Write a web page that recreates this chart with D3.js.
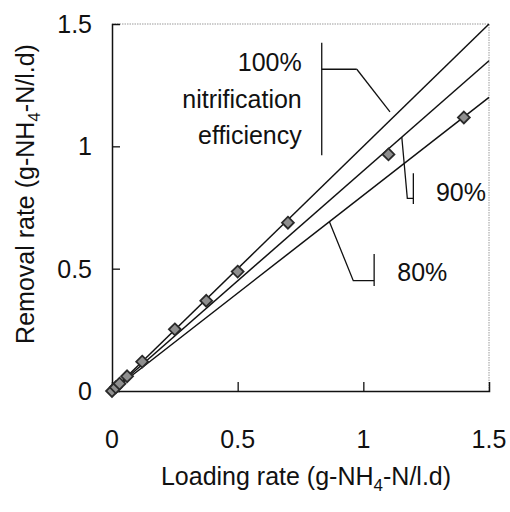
<!DOCTYPE html>
<html>
<head>
<meta charset="utf-8">
<script src="https://cdn.jsdelivr.net/npm/d3@7"></script>
<style>
  body { margin: 0; background: #fff; }
  svg { font-family: "Liberation Sans", Arial, sans-serif; }
</style>
</head>
<body>
<div id="wrapper"></div>
<script>
// measured points (loading vs removal, g-NH4-N/l.d)
const loading = [0, 0.015, 0.03, 0.06, 0.12, 0.25, 0.375, 0.5, 0.7, 1.1, 1.4]
const removal = [0, 0.015, 0.03, 0.06, 0.12, 0.252, 0.369, 0.488, 0.688, 0.967, 1.118]

// efficiency reference lines
const efficiencies = [1.0, 0.9, 0.8]
const tickValues = [0, 0.5, 1, 1.5]
const tickLabels = ["0", "0.5", "1", "1.5"]

// annotation leaders, in data units
const leader100 = [[0.974, 1.315], [0.8345, 1.315]]
const leader100Diag = [[0.974, 1.315], [1.106, 1.141]]
const bar100 = [[0.8345, 1.423], [0.8345, 0.964]]
const leader90 = [[1.153, 1.038], [1.175, 0.7875], [1.199, 0.7875]]
const bar90 = [[1.199, 0.89], [1.199, 0.764]]
const leader80 = [[0.865, 0.692], [0.96, 0.451], [1.043, 0.451]]
const bar80 = [[1.043, 0.56], [1.043, 0.429]]
const label100 = ["100%", "nitrification", "efficiency"]
const label100Y = [1.345, 1.193, 1.046]

const dims = {
  width: 510, height: 512,
  margin: { top: 24, right: 21, bottom: 121, left: 112 },
}
dims.boundedWidth = dims.width - dims.margin.left - dims.margin.right
dims.boundedHeight = dims.height - dims.margin.top - dims.margin.bottom

const fontSize = 25

const svg = d3.select("#wrapper").append("svg")
    .attr("width", dims.width)
    .attr("height", dims.height)

const bounds = svg.append("g")
    .attr("transform", `translate(${dims.margin.left},${dims.margin.top})`)

const xScale = d3.scaleLinear().domain([0, 1.5]).range([0, dims.boundedWidth])
const yScale = d3.scaleLinear().domain([0, 1.5]).range([dims.boundedHeight, 0])

// frame top + right, faint dotted
bounds.append("path")
    .attr("d", `M0,0H${dims.boundedWidth}V${dims.boundedHeight}`)
    .attr("fill", "none")
    .attr("stroke", "#9a9a9a")
    .attr("stroke-dasharray", "1.5,1")

// axes with inward ticks
const xAxis = bounds.append("g")
    .attr("transform", `translate(0,${dims.boundedHeight})`)
    .call(d3.axisTop(xScale).tickValues(tickValues).tickSize(9).tickFormat(""))
const yAxis = bounds.append("g")
    .call(d3.axisRight(yScale).tickValues(tickValues).tickSize(8).tickFormat(""))
;[xAxis, yAxis].forEach(a => {
  a.select(".domain").attr("stroke", "#111").attr("stroke-width", 1.5)
  a.selectAll(".tick line").attr("stroke", "#111").attr("stroke-width", 1.3)
})
xAxis.selectAll(".tick").filter(d => d === 0 || d === 1.5).select("line").remove()
yAxis.selectAll(".tick").filter(d => d === 0 || d === 1.5).select("line").remove()

// tick labels
bounds.append("g").selectAll("text")
  .data(tickValues)
  .join("text")
    .attr("x", d => xScale(d))
    .attr("y", dims.boundedHeight + 48)
    .attr("text-anchor", "middle")
    .attr("dominant-baseline", "central")
    .attr("font-size", fontSize)
    .attr("fill", "#111")
    .text((d, i) => tickLabels[i])
bounds.append("g").selectAll("text")
  .data(tickValues)
  .join("text")
    .attr("x", -20)
    .attr("y", d => yScale(d))
    .attr("text-anchor", "end")
    .attr("dominant-baseline", "central")
    .attr("font-size", fontSize)
    .attr("fill", "#111")
    .text((d, i) => tickLabels[i])

// efficiency lines
const line = d3.line().x(d => xScale(d[0])).y(d => yScale(d[1]))
bounds.selectAll(".eff")
  .data(efficiencies)
  .join("path")
    .attr("class", "eff")
    .attr("d", e => line([[0, 0], [1.5, 1.5 * e]]))
    .attr("fill", "none")
    .attr("stroke", "#111")
    .attr("stroke-width", 1.5)

// leaders
const leaders = [leader100, leader100Diag, bar100, leader90, bar90, leader80, bar80]
bounds.selectAll(".leader")
  .data(leaders)
  .join("path")
    .attr("class", "leader")
    .attr("d", line)
    .attr("fill", "none")
    .attr("stroke", "#111")
    .attr("stroke-width", 1.3)

// annotation text
bounds.selectAll(".lab100")
  .data(label100)
  .join("text")
    .attr("class", "lab100")
    .attr("x", xScale(0.755))
    .attr("y", (d, i) => yScale(label100Y[i]))
    .attr("text-anchor", "end")
    .attr("dominant-baseline", "central")
    .attr("font-size", fontSize)
    .attr("fill", "#111")
    .text(d => d)
bounds.append("text")
    .attr("x", xScale(1.289))
    .attr("y", yScale(0.814))
    .attr("dominant-baseline", "central")
    .attr("font-size", fontSize)
    .attr("fill", "#111")
    .text("90%")
bounds.append("text")
    .attr("x", xScale(1.135))
    .attr("y", yScale(0.4875))
    .attr("dominant-baseline", "central")
    .attr("font-size", fontSize)
    .attr("fill", "#111")
    .text("80%")

// data diamonds
bounds.selectAll(".pt")
  .data(loading)
  .join("path")
    .attr("class", "pt")
    .attr("d", d3.symbol(d3.symbolDiamond2, 90))
    .attr("transform", (d, i) => `translate(${xScale(d)},${yScale(removal[i])})`)
    .attr("fill", "#8f8f8f")
    .attr("stroke", "#2a2a2a")
    .attr("stroke-width", 1.8)

// axis titles
const xTitle = svg.append("text")
    .attr("x", 306)
    .attr("y", 485)
    .attr("text-anchor", "middle")
    .attr("font-size", fontSize)
    .attr("fill", "#111")
xTitle.append("tspan").text("Loading rate (g-NH")
xTitle.append("tspan").attr("font-size", 17).attr("dy", 6).text("4")
xTitle.append("tspan").attr("dy", -6).text("-N/l.d)")

const yTitle = svg.append("text")
    .attr("transform", "translate(34,194) rotate(-90)")
    .attr("text-anchor", "middle")
    .attr("font-size", fontSize)
    .attr("fill", "#111")
yTitle.append("tspan").text("Removal rate (g-NH")
yTitle.append("tspan").attr("font-size", 17).attr("dy", 6).text("4")
yTitle.append("tspan").attr("dy", -6).text("-N/l.d)")
</script>
</body>
</html>
